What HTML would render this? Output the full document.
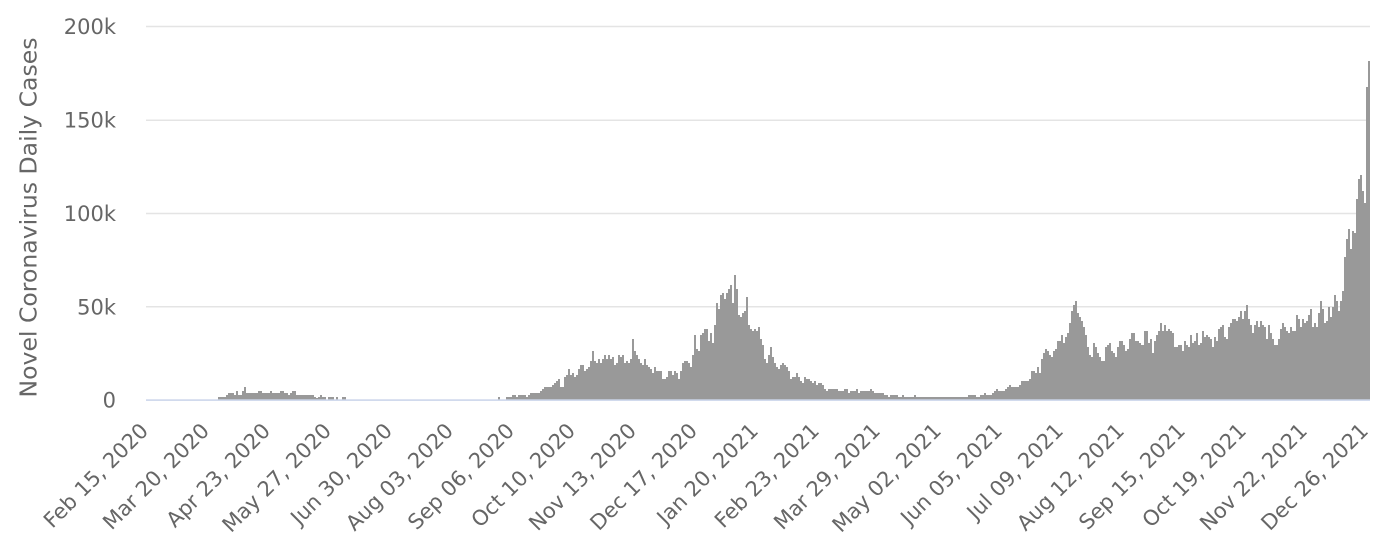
<!DOCTYPE html>
<html>
<head>
<meta charset="utf-8">
<style>
  html,body{margin:0;padding:0;background:#fff;}
  svg{display:block;}
  .yl{font-family:"DejaVu Sans","Liberation Sans",sans-serif;font-size:21px;fill:#666;}
  .xl{font-family:"DejaVu Sans","Liberation Sans",sans-serif;font-size:21px;fill:#666;}
  .tt{font-family:"DejaVu Sans","Liberation Sans",sans-serif;font-size:23.5px;fill:#666;}
</style>
</head>
<body>
<svg width="1389" height="549" viewBox="0 0 1389 549" xmlns="http://www.w3.org/2000/svg">
  <rect width="1389" height="549" fill="#fff"/>
  <!-- gridlines -->
  <g stroke="#e4e4e4" stroke-width="1.5">
    <line x1="146" y1="26.5" x2="1370" y2="26.5"/>
    <line x1="146" y1="120.2" x2="1370" y2="120.2"/>
    <line x1="146" y1="213.5" x2="1370" y2="213.5"/>
    <line x1="146" y1="306.8" x2="1370" y2="306.8"/>
  </g>
  <!-- bars -->
  <path fill="#999" d="M218 400V397H226V395H228V393H234V395H236V391H238V395H242V391H244V387H246V393H258V391H262V393H270V391H272V393H280V391H284V393H288V395H290V393H292V391H296V395H314V397H316V398H318V397H320V395H322V397H326V400H328V397H334V400H336V397H338V400H342V397H346V400H498V397H500V400H506V397H512V395H516V397H518V395H526V397H528V395H530V393H540V391H542V389H544V387H552V385H554V383H556V381H558V379H560V387H564V377H566V375H568V369H570V375H572V373H574V377H576V375H578V369H580V365H584V371H586V369H588V367H590V361H592V351H594V361H596V363H598V359H600V363H602V359H604V355H606V359H608V355H610V359H612V357H614V365H616V363H618V355H620V357H622V355H624V363H626V361H628V363H630V359H632V339H634V351H636V355H638V359H640V363H642V365H644V359H646V365H648V367H650V369H652V373H654V367H656V371H662V379H666V377H668V371H672V375H674V371H676V373H678V379H680V371H682V363H684V361H688V363H690V367H692V355H694V335H696V349H698V351H700V335H702V333H704V329H708V341H710V333H712V343H714V325H716V303H718V309H720V295H722V293H724V299H726V293H728V289H730V285H732V303H734V275H736V289H738V315H740V317H742V313H744V311H746V297H748V325H750V329H752V331H754V329H756V331H758V327H760V339H762V345H764V359H766V363H768V355H770V347H772V357H774V363H776V367H778V369H780V365H782V363H784V365H786V367H788V371H790V379H792V377H796V373H798V377H800V381H802V383H804V377H806V379H810V381H812V383H814V381H816V385H818V383H822V385H824V389H826V391H828V389H838V391H844V389H848V393H850V391H856V389H858V393H860V391H870V389H872V391H874V393H884V395H888V397H890V395H898V397H902V395H904V397H914V395H916V397H968V395H976V397H980V395H984V393H986V395H992V393H994V391H996V389H998V391H1005V389H1007V387H1009V385H1011V387H1019V385H1021V381H1029V379H1031V371H1035V373H1037V367H1039V373H1041V359H1043V353H1045V349H1047V351H1049V355H1051V357H1053V351H1055V349H1057V341H1061V335H1063V343H1065V337H1067V333H1069V323H1071V311H1073V305H1075V301H1077V313H1079V317H1081V321H1083V327H1085V335H1087V347H1089V355H1091V357H1093V343H1095V347H1097V353H1099V357H1101V361H1105V347H1107V345H1109V343H1111V351H1113V353H1115V357H1117V347H1119V341H1123V345H1125V351H1127V349H1129V339H1131V333H1135V341H1139V343H1141V345H1144V331H1148V343H1150V339H1152V353H1154V341H1156V335H1158V331H1160V323H1162V331H1164V325H1166V331H1168V329H1170V331H1172V333H1174V347H1178V345H1182V351H1184V341H1186V345H1188V347H1190V335H1192V343H1194V341H1196V333H1198V345H1200V343H1202V331H1204V337H1206V335H1208V337H1210V339H1212V347H1214V337H1216V341H1218V329H1220V327H1222V325H1224V337H1226V339H1228V327H1230V323H1232V319H1236V321H1238V317H1240V311H1242V319H1244V311H1246V305H1248V319H1250V325H1252V333H1254V325H1256V321H1258V327H1260V321H1262V325H1264V327H1266V339H1268V325H1270V333H1272V339H1274V345H1278V339H1280V329H1282V323H1284V327H1286V331H1288V333H1290V327H1292V331H1296V315H1298V319H1300V327H1302V319H1304V323H1306V321H1308V315H1310V309H1312V327H1314V323H1316V327H1318V313H1320V301H1322V309H1324V323H1326V321H1328V307H1330V317H1332V307H1334V295H1336V301H1338V311H1340V301H1342V291H1344V257H1346V239H1348V229H1350V249H1352V231H1354V233H1356V199H1358V179H1360V175H1362V191H1364V203H1366V87H1368V61H1370V400Z"/>
  <!-- x axis line -->
  <rect x="146" y="399.3" width="1224" height="1.6" fill="#ccd6eb"/>
  <!-- y labels -->
  <g class="yl" text-anchor="end">
    <text x="116" y="34">200k</text>
    <text x="116" y="127.7">150k</text>
    <text x="116" y="221">100k</text>
    <text x="116" y="314.3">50k</text>
    <text x="116" y="407.5">0</text>
  </g>
  <!-- y title -->
  <text class="tt" x="0" y="0" transform="translate(36.5,397.5) rotate(-90)" textLength="360" lengthAdjust="spacingAndGlyphs">Novel Coronavirus Daily Cases</text>
  <!-- x labels -->
  <g class="xl" text-anchor="end">
    <text x="149.5" y="432" transform="rotate(-45 149.5 432)">Feb 15, 2020</text>
    <text x="210.5" y="432" transform="rotate(-45 210.5 432)">Mar 20, 2020</text>
    <text x="271.5" y="432" transform="rotate(-45 271.5 432)">Apr 23, 2020</text>
    <text x="332.5" y="432" transform="rotate(-45 332.5 432)">May 27, 2020</text>
    <text x="393.5" y="432" transform="rotate(-45 393.5 432)">Jun 30, 2020</text>
    <text x="454.5" y="432" transform="rotate(-45 454.5 432)">Aug 03, 2020</text>
    <text x="515.5" y="432" transform="rotate(-45 515.5 432)">Sep 06, 2020</text>
    <text x="576.5" y="432" transform="rotate(-45 576.5 432)">Oct 10, 2020</text>
    <text x="637.5" y="432" transform="rotate(-45 637.5 432)">Nov 13, 2020</text>
    <text x="698.5" y="432" transform="rotate(-45 698.5 432)">Dec 17, 2020</text>
    <text x="759.5" y="432" transform="rotate(-45 759.5 432)">Jan 20, 2021</text>
    <text x="820.5" y="432" transform="rotate(-45 820.5 432)">Feb 23, 2021</text>
    <text x="881.5" y="432" transform="rotate(-45 881.5 432)">Mar 29, 2021</text>
    <text x="942.5" y="432" transform="rotate(-45 942.5 432)">May 02, 2021</text>
    <text x="1003.5" y="432" transform="rotate(-45 1003.5 432)">Jun 05, 2021</text>
    <text x="1064.5" y="432" transform="rotate(-45 1064.5 432)">Jul 09, 2021</text>
    <text x="1125.5" y="432" transform="rotate(-45 1125.5 432)">Aug 12, 2021</text>
    <text x="1186.5" y="432" transform="rotate(-45 1186.5 432)">Sep 15, 2021</text>
    <text x="1247.5" y="432" transform="rotate(-45 1247.5 432)">Oct 19, 2021</text>
    <text x="1308.5" y="432" transform="rotate(-45 1308.5 432)">Nov 22, 2021</text>
    <text x="1369.5" y="432" transform="rotate(-45 1369.5 432)">Dec 26, 2021</text>
  </g>
</svg>
</body>
</html>
